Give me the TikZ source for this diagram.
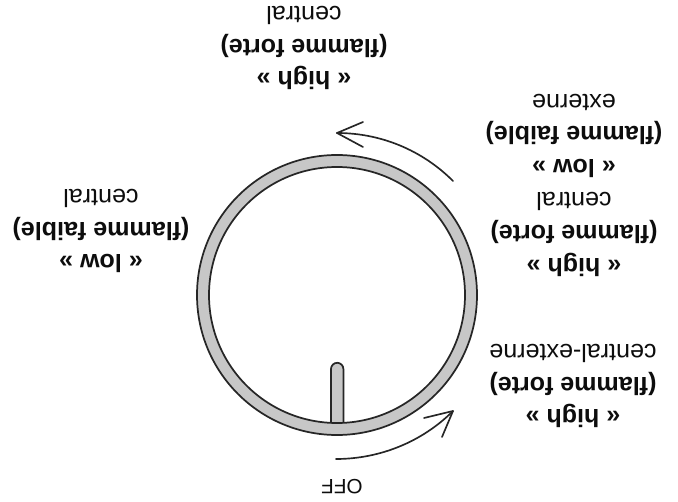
\documentclass[tikz,border=0pt]{standalone}
\usepackage{fontspec}
\setmainfont{Liberation Sans}
\tikzset{
  lbl/.style={rotate=180,align=center,inner sep=0pt,font=\fontsize{18.8}{24.6}\selectfont,text=black!95},
  ringline/.style={draw=black!85,line width=1.3pt,fill=black!22},
  sweep/.style={draw=black!85,line width=1.25pt,line cap=round,line join=round}
}
\begin{document}
\begin{tikzpicture}[x=0.75pt,y=-0.75pt]
\useasboundingbox (0,0) rectangle (678,502);
% knob pointer and ring
\draw[ringline] (331,425) -- (331,369) arc[start angle=180,end angle=360,radius=6.2] -- (343.4,425);
\draw[ringline,even odd rule] (337,295) circle[radius=140] (337,295) circle[radius=128];
% rotation arrows
\coordinate (a1s) at (336,459);
\coordinate (a1e) at (453,411);
\coordinate (a1u) at (424,418);
\coordinate (a1v) at (442,437);
\coordinate (a2s) at (453,181);
\coordinate (a2e) at (337,133);
\coordinate (a2u) at (363,122);
\coordinate (a2v) at (363,147);
\draw[sweep] (a1s) .. controls (379.5,459) and (422,442) .. (a1e);
\draw[sweep] (a1u) -- (a1e) -- (a1v);
\draw[sweep] (a2s) .. controls (422,150) and (380.5,133) .. (a2e);
\draw[sweep] (a2u) -- (a2e) -- (a2v);
% labels
\node[lbl,font=\fontsize{15.5}{20}\selectfont] (off) at (342,487) {OFF};
\node[lbl] (t1) at (304,48) {\textbf{« high »}\\\textbf{(flamme forte)}\\central};
\node[lbl] (t2) at (574,185) {\textbf{« high »}\\\textbf{(flamme forte)}\\central\\\textbf{« low »}\\\textbf{(flamme faible)}\\externe};
\node[lbl] (t3) at (101,231) {\textbf{« low »}\\\textbf{(flamme faible)}\\central};
\node[lbl] (t4) at (573,386) {\textbf{« high »}\\\textbf{(flamme forte)}\\central-externe};
\end{tikzpicture}
\end{document}
